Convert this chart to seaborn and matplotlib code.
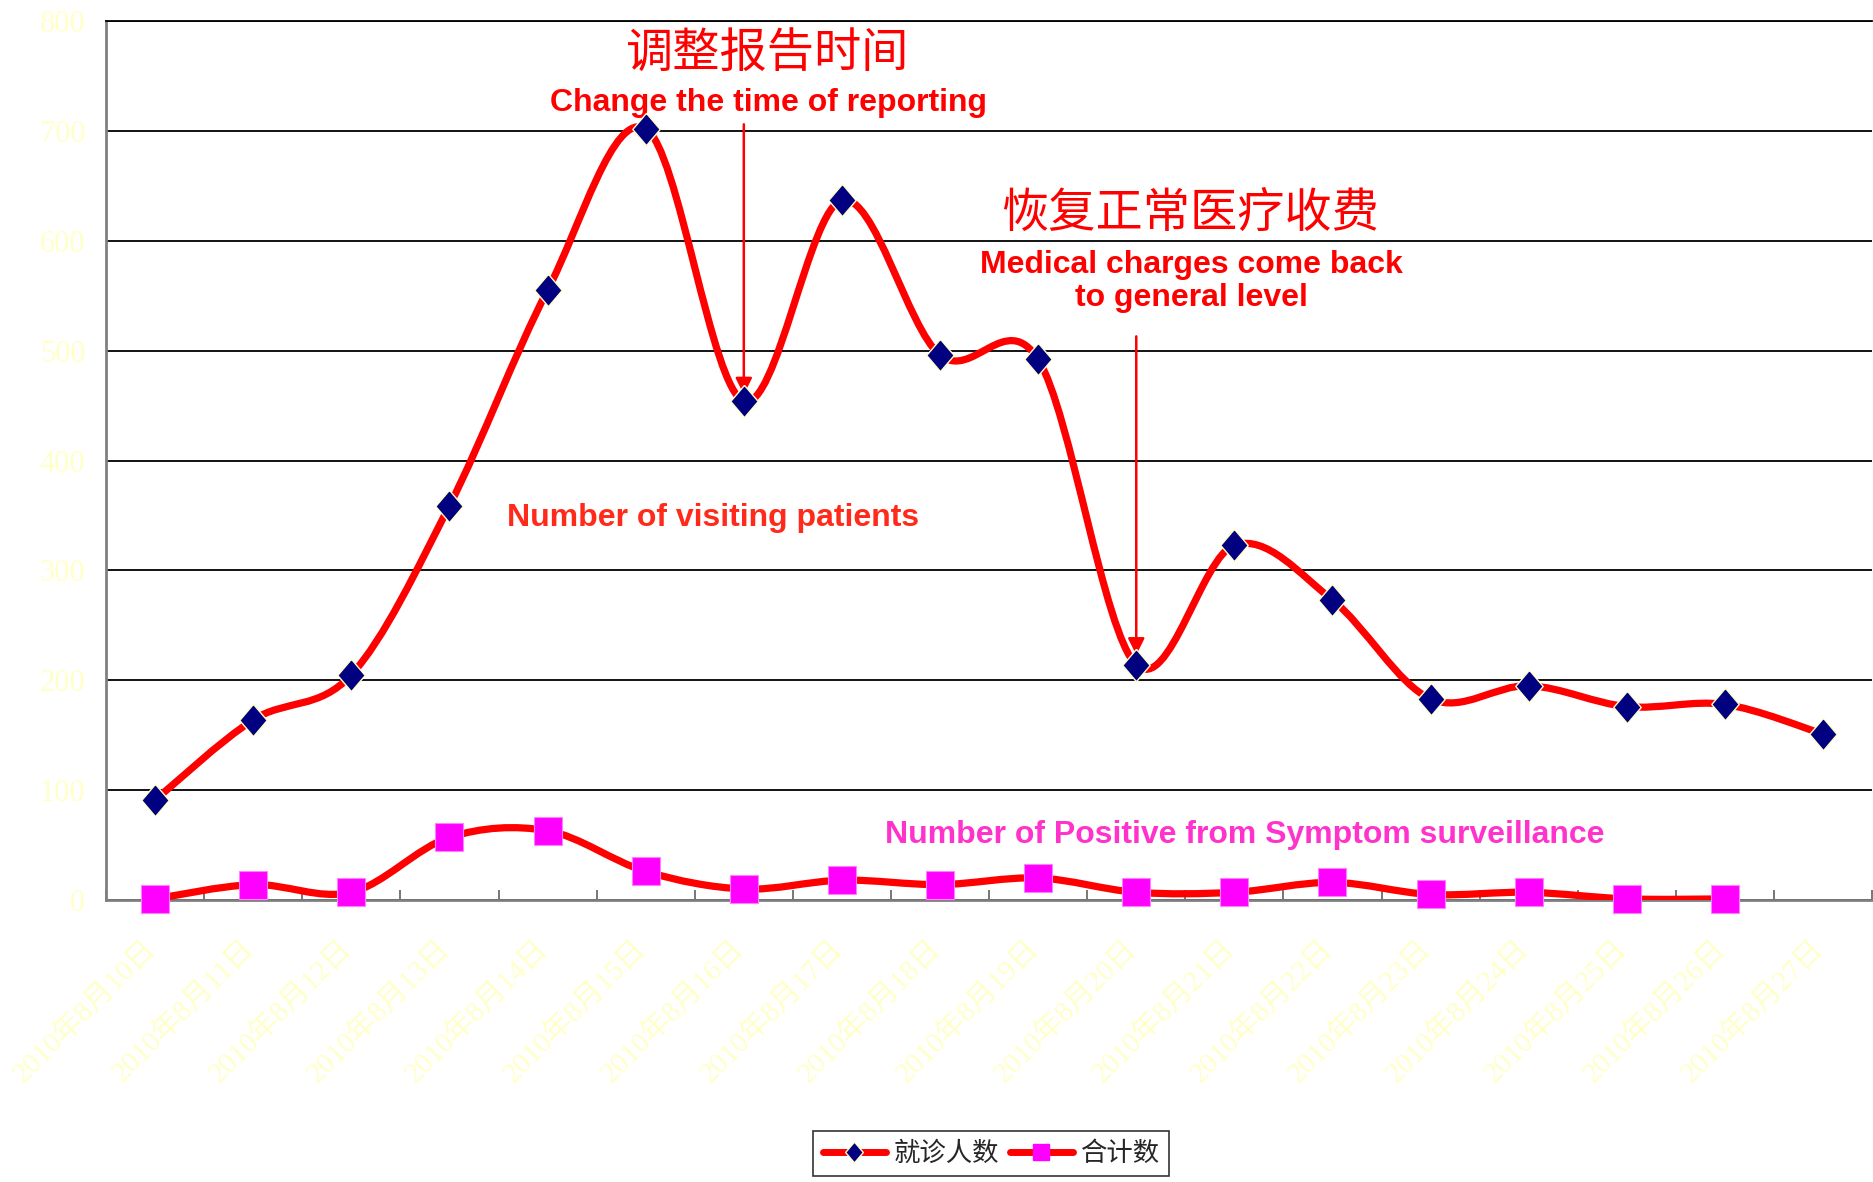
#!/usr/bin/env python3
"""
Daily visiting patients vs. positives from symptom surveillance, Aug 2010.
"""

import matplotlib

matplotlib.use("Agg")

import matplotlib.pyplot as plt
import numpy as np
import seaborn as sns
from matplotlib.lines import Line2D
from matplotlib.patches import PathPatch
from matplotlib.path import Path
from matplotlib.ticker import FixedLocator, MultipleLocator
from matplotlib.transforms import ScaledTranslation

dates = [
    "2010年8月10日", "2010年8月11日", "2010年8月12日", "2010年8月13日",
    "2010年8月14日", "2010年8月15日", "2010年8月16日", "2010年8月17日",
    "2010年8月18日", "2010年8月19日", "2010年8月20日", "2010年8月21日",
    "2010年8月22日", "2010年8月23日", "2010年8月24日", "2010年8月25日",
    "2010年8月26日", "2010年8月27日",
]
visits = [91, 164, 205, 359, 555, 702, 454, 637, 496, 492, 214, 323, 273, 183, 195, 176, 178, 151]
positives = [1, 14, 7, 57, 63, 26, 10, 18, 14, 20, 7, 7, 16, 5, 7, 1, 1]

series_names = ["就诊人数", "合计数"]

CJK = ["Noto Sans CJK SC", "DejaVu Sans"]
SERIF = ["Liberation Serif", "Noto Sans CJK SC"]
SANS = ["Liberation Sans", "DejaVu Sans"]
PALE = "#FFFFC8"
DIAMOND = [(0, 1), (0.85, 0), (0, -1), (-0.85, 0), (0, 1)]


def smooth_path(values):
    # Excel-style smoothed line: cubic Bezier through every point
    pts = [np.array([i, v], dtype=float) for i, v in enumerate(values)]
    n = len(pts)
    verts, codes = [tuple(pts[0])], [Path.MOVETO]
    for i in range(n - 1):
        p0, p1 = pts[max(i - 1, 0)], pts[i]
        p2, p3 = pts[i + 1], pts[min(i + 2, n - 1)]
        verts += [tuple(p1 + (p2 - p0) / 6), tuple(p2 - (p3 - p1) / 6), tuple(p2)]
        codes += [Path.CURVE4] * 3
    return Path(verts, codes)


def main() -> None:
    sns.set_theme(style="white")
    plt.rcParams["font.family"] = CJK

    fig = plt.figure(figsize=(18.74, 11.82), dpi=100)
    ax = fig.add_axes([0.0566, 0.2386, 0.9424, 0.7436])

    for vals in (visits, positives):
        ax.add_patch(PathPatch(smooth_path(vals), fill=False, edgecolor="red",
                               lw=5.2, joinstyle="round", capstyle="round", zorder=3))

    sns.scatterplot(ax=ax, x=dates, y=visits, marker=DIAMOND, s=540,
                    color="#000080", edgecolor=PALE, linewidth=1.0, zorder=4,
                    clip_on=False)
    sns.scatterplot(ax=ax, x=dates[:len(positives)], y=positives, marker="s", s=430,
                    color="#FF00FF", edgecolor="#FF80FF", linewidth=0.8, zorder=4,
                    clip_on=False)

    ax.set_xlim(-0.5, len(dates) - 0.5)
    ax.set_ylim(0, 800)
    ax.yaxis.set_major_locator(MultipleLocator(100))
    ax.yaxis.grid(True, color="black", lw=1.3)
    ax.set_axisbelow(True)

    ax.spines["right"].set_visible(False)
    ax.spines["top"].set_color("black")
    ax.spines["top"].set_linewidth(1.3)
    for side in ("left", "bottom"):
        ax.spines[side].set_color("#808080")
        ax.spines[side].set_linewidth(2)

    ax.tick_params(axis="y", direction="in", length=5, width=1.5, color="#303030",
                   pad=15, labelcolor=PALE, labelsize=22)
    for lbl in ax.get_yticklabels():
        lbl.set_family(SERIF)

    ax.set_xticks(range(len(dates)))
    ax.set_xticklabels(dates)
    ax.xaxis.set_minor_locator(FixedLocator(np.arange(-0.5, len(dates), 1)))
    ax.tick_params(axis="x", which="major", length=0, pad=25, labelcolor=PALE, labelsize=21)
    ax.tick_params(axis="x", which="minor", direction="in", length=7, width=1.2,
                   color="#606060", bottom=True)
    shift = ScaledTranslation(-13 / 100, 0, fig.dpi_scale_trans)
    for lbl in ax.get_xticklabels():
        lbl.set_family(SERIF)
        lbl.set_rotation(45)
        lbl.set_ha("right")
        lbl.set_va("top")
        lbl.set_rotation_mode("anchor")
        lbl.set_transform(lbl.get_transform() + shift)
    ax.set_xlabel("")
    ax.set_ylabel("")

    # annotations
    ax.text(6.24, 770, "调整报告时间", color="red", fontsize=34, family=CJK,
            ha="center", va="center")
    ax.text(6.25, 725, "Change the time of reporting", color="red", fontsize=23,
            fontweight="bold", family=SANS, ha="center", va="center")
    ax.annotate("", xy=(6, 460), xytext=(6, 706),
                arrowprops=dict(arrowstyle="-|>,head_length=0.5,head_width=0.25",
                                color="red", lw=1.8, mutation_scale=20,
                                shrinkA=0, shrinkB=0))

    ax.text(10.55, 625, "恢复正常医疗收费", color="red", fontsize=34, family=CJK,
            ha="center", va="center")
    ax.text(10.56, 563, "Medical charges come back\nto general level", color="red",
            fontsize=23, fontweight="bold", family=SANS, ha="center", va="center",
            linespacing=1.12)
    ax.annotate("", xy=(10, 223), xytext=(10, 513),
                arrowprops=dict(arrowstyle="-|>,head_length=0.5,head_width=0.25",
                                color="red", lw=1.8, mutation_scale=20,
                                shrinkA=0, shrinkB=0))

    ax.text(5.69, 348, "Number of visiting patients", color="#FF2A1A", fontsize=23,
            fontweight="bold", family=SANS, ha="center", va="center")
    ax.text(11.11, 59, "Number of Positive from Symptom surveillance", color="#FF33CC",
            fontsize=23, fontweight="bold", family=SANS, ha="center", va="center")

    handles = [
        Line2D([], [], color="red", lw=5, marker=DIAMOND, markersize=15,
               markerfacecolor="#000080", markeredgecolor=PALE, markeredgewidth=1),
        Line2D([], [], color="red", lw=5, marker="s", markersize=12,
               markerfacecolor="#FF00FF", markeredgecolor="#FF00FF"),
    ]
    leg = fig.legend(handles, series_names, loc="center", bbox_to_anchor=(0.529, 0.024),
                     ncol=2, frameon=True, fancybox=False, edgecolor="black",
                     prop={"family": CJK, "size": 19}, handlelength=2.4,
                     handletextpad=0.3, columnspacing=0.4, borderpad=0.35,
                     borderaxespad=0)
    leg.get_frame().set_linewidth(1.2)

    fig.savefig("out.png", dpi=100, facecolor="white")


if __name__ == "__main__":
    main()
